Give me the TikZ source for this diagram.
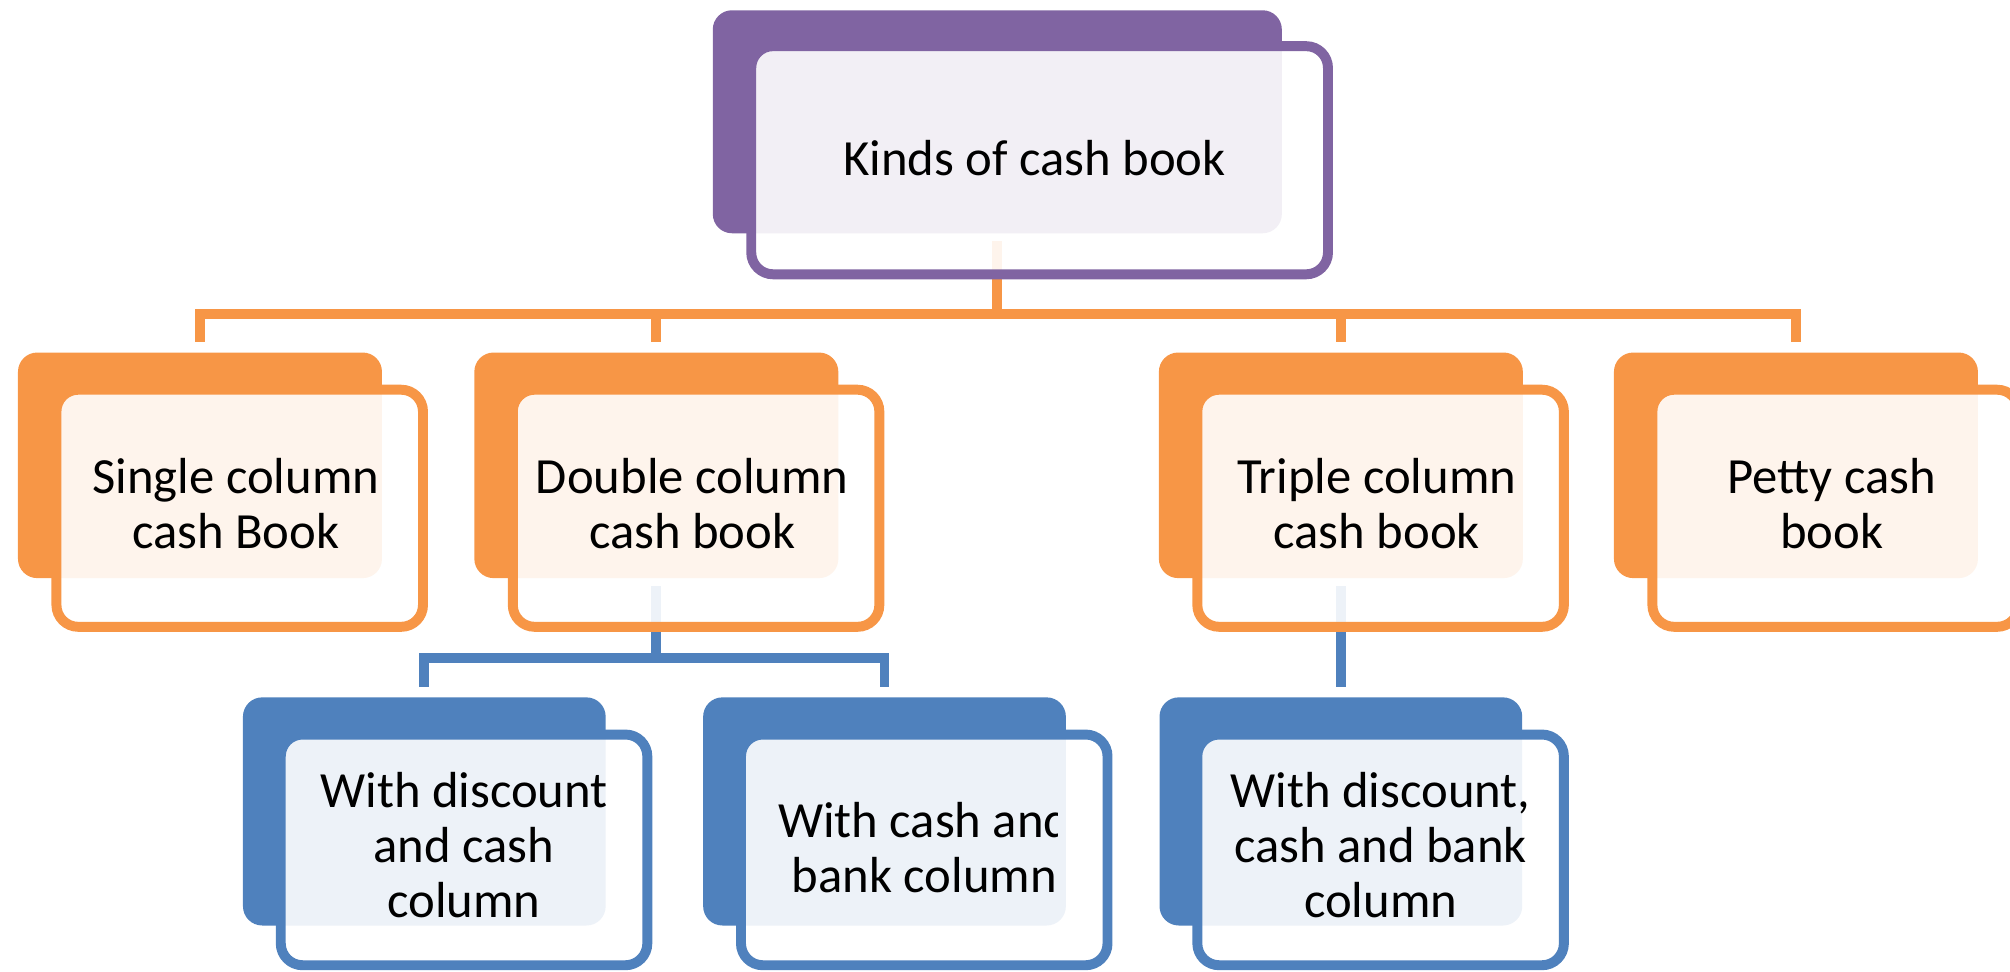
\documentclass[tikz,border=0pt]{standalone}
\usepackage{fontspec}
\setmainfont{Carlito}
\usetikzlibrary{calc}
\definecolor{cpur}{HTML}{8064A2}
\definecolor{corg}{HTML}{F79646}
\definecolor{cblu}{HTML}{4F81BD}
\tikzset{
  backbox/.style={draw=none, fill=#1, rounded corners=0.3cm, inner sep=0pt},
  frontbox/.style={draw=#1, line width=0.155cm, fill=white, fill opacity=0.9, rounded corners=0.34cm, inner sep=0pt},
  boxtext/.style={text=black, font=\fontsize{22.5}{24.4}\selectfont, align=center, inner sep=0pt},
  linkline/.style={draw=#1, line width=0.155cm},
  lvtwoback/.style={backbox=corg, minimum width=5.68cm, minimum height=3.52cm},
  lvtwofront/.style={frontbox=corg, minimum width=5.72cm, minimum height=3.7cm},
  lvthreeback/.style={backbox=cblu, minimum width=5.66cm, minimum height=3.56cm},
  lvthreefront/.style={frontbox=cblu, minimum width=5.72cm, minimum height=3.6cm},
}
\begin{document}
\begin{tikzpicture}[x=0.02cm,y=-0.02cm]
\useasboundingbox (0,0) rectangle (1568,757.5);
% back boxes
\node[backbox=cpur, minimum width=8.88cm, minimum height=3.48cm] (kB) at (778,95) {};
\node[lvtwoback] (sB) at (156,363) {};
\node[lvtwoback] (dB) at (512,363) {};
\node[lvtwoback] (tB) at (1046,363) {};
\node[lvtwoback] (pB) at (1401,363) {};
\node[lvthreeback] (aB) at (331,633) {};
\node[lvthreeback] (bB) at (690,633) {};
\node[lvthreeback] (cB) at (1046,633) {};
% connectors
\coordinate (obar) at (778,245);
\coordinate (bbar) at (512,513);
\foreach \c in {sB,dB,tB,pB}{
  \draw[linkline=corg] ([yshift=-0.12cm]kB.south) -- (kB.south |- obar) -| ([yshift=0.16cm]\c.north);
}
\foreach \c in {aB,bB}{
  \draw[linkline=cblu] ([yshift=-0.12cm]dB.south) -- (dB.south |- bbar) -| ([yshift=0.16cm]\c.north);
}
\draw[linkline=cblu] ([yshift=-0.12cm]tB.south) -- ([yshift=0.16cm]cB.north);
% front boxes
\node[frontbox=cpur, minimum width=9.0cm, minimum height=3.56cm] (kF) at (811,125) {};
\node[lvtwofront] (sF) at (187,396.5) {};
\node[lvtwofront] (dF) at (543,396.5) {};
\node[lvtwofront] (tF) at (1077,396.5) {};
\node[lvtwofront] (pF) at (1432,396.5) {};
\node[lvthreefront] (aF) at (362,663) {};
\node[lvthreefront] (bF) at (721,663) {};
\node[lvthreefront] (cF) at (1077,663) {};
% texts
\node[boxtext] (kT) at (807,123) {Kinds of cash book};
\node[boxtext] (sT) at (184,393) {Single column\\cash Book};
\node[boxtext] (dT) at (540,393) {Double column\\cash book};
\node[boxtext] (tT) at (1074,393) {Triple column\\cash book};
\node[boxtext] (pT) at (1429,393) {Petty cash\\book};
\node[boxtext] (aT) at (362,659) {With discount\\and cash\\column};
\begin{scope}
  \clip (0,0) rectangle (825,757.5);
  \node[boxtext] (bT) at (721,661) {With cash and\\bank column};
\end{scope}
\node[boxtext] (cT) at (1077,659) {With discount,\\cash and bank\\column};
\end{tikzpicture}
\end{document}
